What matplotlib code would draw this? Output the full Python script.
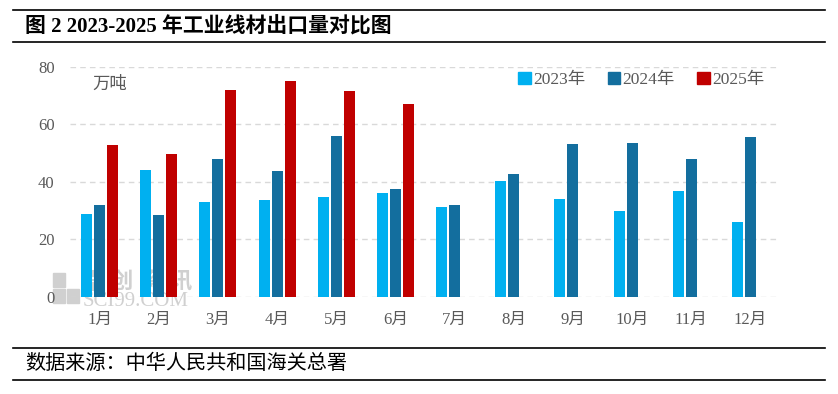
import numpy as np
import matplotlib.pyplot as plt
from matplotlib.lines import Line2D
from matplotlib.patches import Patch, Rectangle

plt.rcParams['font.family'] = ['Liberation Serif', 'Noto Sans CJK SC']

# Data (万吨)
months = ['1月', '2月', '3月', '4月', '5月', '6月', '7月', '8月', '9月', '10月', '11月', '12月']
y2023 = [28.8, 44.1, 32.9, 33.6, 34.7, 36.1, 31.2, 40.2, 34.0, 29.8, 36.8, 26.0]
y2024 = [31.9, 28.4, 47.9, 43.7, 55.9, 37.4, 31.9, 42.7, 53.1, 53.4, 47.9, 55.5]
y2025 = [52.8, 49.6, 71.9, 75.0, 71.5, 67.0]

c2023 = '#00B0F0'
c2024 = '#136E9E'
c2025 = '#C00000'
grey = '#595959'

W, H = 838, 394
fig = plt.figure(figsize=(W / 100, H / 100), dpi=100)
ax = fig.add_axes([70 / W, 1 - 296.7 / H, 710 / W, 230 / H])

x = np.arange(len(months))
bw = 0.186
step = 0.22
ax.bar(x - step, y2023, width=bw, color=c2023, label='2023年', zorder=2)
ax.bar(x, y2024, width=bw, color=c2024, label='2024年', zorder=2)
ax.bar(x[:len(y2025)] + step, y2025, width=bw, color=c2025, label='2025年', zorder=2)

ax.set_xlim(-0.5, len(months) - 0.5)
ax.set_ylim(0, 80)
ax.set_yticks([0, 20, 40, 60, 80])
ax.set_xticks(x)
ax.set_xticklabels(months)
ax.grid(axis='y', color='#D9D9D9', linestyle=(0, (4, 3)), linewidth=1)
ax.set_axisbelow(True)
for s in ax.spines.values():
    s.set_visible(False)
ax.tick_params(axis='both', length=0, labelsize=12, colors=grey)
ax.tick_params(axis='y', pad=11)
ax.tick_params(axis='x', pad=11)

ax.text(0.031, 0.92, '万吨', transform=ax.transAxes, fontsize=12.5, color=grey,
        va='center', ha='left')

handles = [Patch(color=c2023), Patch(color=c2024), Patch(color=c2025)]
ax.legend(handles, ['2023年', '2024年', '2025年'], loc='upper right',
          bbox_to_anchor=(1.0, 1.045), ncol=3, frameon=False, fontsize=12.5,
          handlelength=0.7, handleheight=0.7, handletextpad=0.15,
          columnspacing=1.3, labelcolor=grey)

# watermark (behind everything in the axes)
wm = '#D0D0D0'
for (rx, ry, rw, rh) in [(53, 273, 12, 14), (53, 289, 12, 14), (67, 289, 12, 14)]:
    ax.add_patch(Rectangle((rx / W, 1 - (ry + rh) / H), rw / W, rh / H,
                           transform=fig.transFigure, color=wm, zorder=0.1,
                           clip_on=False))
for i, ch in enumerate('卓创资讯'):
    ax.text((82 + i * 29) / W, 1 - 283 / H, ch, transform=fig.transFigure,
            fontsize=16, color=wm, ha='left', va='center', fontweight='bold',
            zorder=0.1)
ax.text(83 / W, 1 - 301 / H, 'SCI99.COM', transform=fig.transFigure, fontsize=15,
        color=wm, ha='left', va='center', zorder=0.1)

# header and footer
for yy in (10, 42, 348, 380):
    fig.add_artist(Line2D([13 / W, 825 / W], [1 - yy / H, 1 - yy / H],
                          color='black', lw=1.2))
fig.text(25 / W, 1 - 27 / H, '图 2 2023-2025 年工业线材出口量对比图', fontsize=15,
         fontweight='bold', ha='left', va='center', color='black')
fig.text(25 / W, 1 - 364 / H, '数据来源：中华人民共和国海关总署', fontsize=14.5,
         ha='left', va='center', color='black')

fig.savefig('out.png', dpi=100)
